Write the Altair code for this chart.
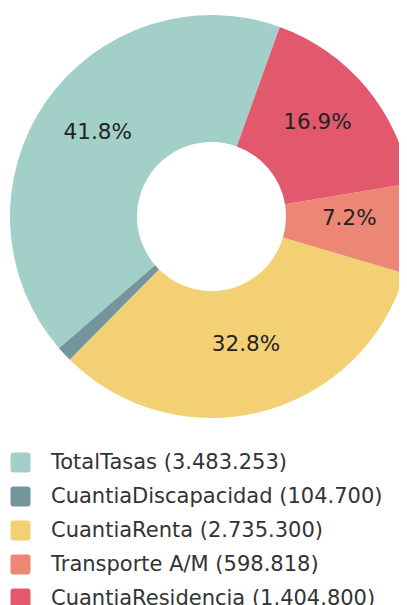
import math
import altair as alt
import pandas as pd

categories = ["TotalTasas", "CuantiaDiscapacidad", "CuantiaRenta", "Transporte A/M", "CuantiaResidencia"]
values = [3483253, 104700, 2735300, 598818, 1404800]
colors = ["#a2d0c8", "#73959c", "#f2d073", "#ec8776", "#e2596e"]
stack_order = [4, 3, 2, 1, 0]

total = sum(values)


def fmt(v):
    return f"{v:,}".replace(",", ".")


legend_labels = [f"{c} ({fmt(v)})" for c, v in zip(categories, values)]
pct = [f"{v / total * 100:.1f}%" if v / total >= 0.03 else "" for v in values]

df = pd.DataFrame({"label": legend_labels, "value": values, "order": stack_order, "pct": pct})

start = math.radians(19.8)
theta = alt.Theta("value:Q", stack=True, scale=alt.Scale(range=[start, start + 2 * math.pi]))
order = alt.Order("order:Q", sort="ascending")

rounded_square = ("M -0.7 -1 L 0.7 -1 Q 1 -1 1 -0.7 L 1 0.7 Q 1 1 0.7 1 "
                  "L -0.7 1 Q -1 1 -1 0.7 L -1 -0.7 Q -1 -1 -0.7 -1 Z")

color = alt.Color(
    "label:N",
    scale=alt.Scale(domain=legend_labels, range=colors),
    legend=alt.Legend(
        title=None,
        orient="none",
        legendX=2,
        legendY=444,
        padding=0,
        symbolType=rounded_square,
        symbolSize=400,
        symbolStrokeWidth=0,
        symbolOpacity=1,
        labelFont="DejaVu Sans",
        labelFontSize=21,
        labelColor="#333333",
        labelOffset=20,
        labelLimit=400,
        rowPadding=12,
    ),
)

cx, cy = 203.5, 208.5

arcs = alt.Chart(df).mark_arc(outerRadius=201.5, innerRadius=74.5).encode(
    x=alt.value(cx), y=alt.value(cy), theta=theta, color=color, order=order
)

labels = alt.Chart(df).mark_text(
    radius=138, font="DejaVu Sans", fontSize=21.5, color="#222222"
).encode(x=alt.value(cx), y=alt.value(cy - 5.5), theta=theta, text="pct:N", order=order)

chart = (
    alt.layer(arcs, labels)
    .properties(width=391, height=597, padding=0, autosize=alt.AutoSizeParams(type="none"))
    .configure_view(stroke=None)
)

chart.save("out.html", embed_options={"renderer": "svg", "actions": False})
